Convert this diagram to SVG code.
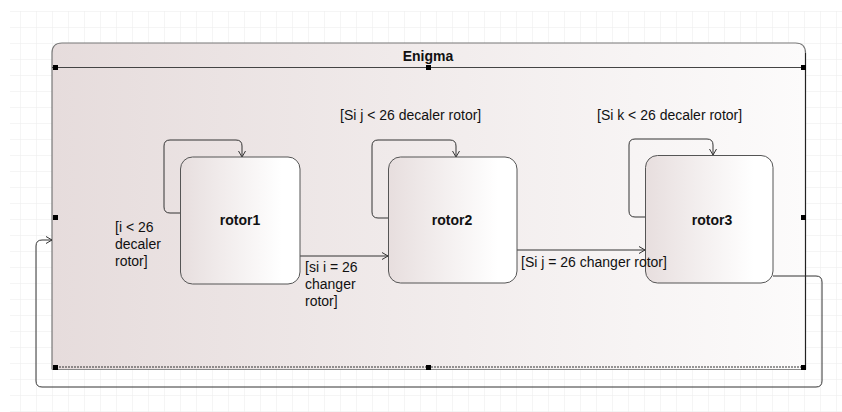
<svg xmlns="http://www.w3.org/2000/svg" width="842" height="412" viewBox="0 0 842 412">
  <defs>
    <pattern id="grid" x="4" y="11" width="16" height="16" patternUnits="userSpaceOnUse">
      <path d="M0,0 H16 M0,0 V16" fill="none" stroke="#ececec" stroke-width="1"/>
    </pattern>
    <linearGradient id="stateFill" x1="0" y1="0" x2="1" y2="0">
      <stop offset="0" stop-color="#e6dcdc"/>
      <stop offset="1" stop-color="#fcfbfb"/>
    </linearGradient>
    <linearGradient id="rotorFill" x1="0" y1="0" x2="1" y2="0">
      <stop offset="0" stop-color="#e7dede"/>
      <stop offset="0.85" stop-color="#ffffff"/>
      <stop offset="1" stop-color="#ffffff"/>
    </linearGradient>
    <marker id="arrow" markerWidth="8" markerHeight="8" refX="7" refY="4" orient="auto" markerUnits="userSpaceOnUse">
      <path d="M1,0.5 L7,4 L1,7.5" fill="none" stroke="#333" stroke-width="1"/>
    </marker>
    <style>
      .lbl { font-family: "Liberation Sans", Arial, sans-serif; font-size: 14px; fill: #111; }
      .name { font-family: "Liberation Sans", Arial, sans-serif; font-size: 14px; font-weight: bold; fill: #111; text-anchor: middle; }
      .rotor { fill: url(#rotorFill); stroke: #555; stroke-width: 1; }
      .edge { fill: none; stroke: #333; stroke-width: 1; }
      .handle { fill: #000; }
    </style>
  </defs>

  <!-- background grid -->
  <rect x="10" y="11" width="832" height="401" fill="url(#grid)"/>

  <!-- composite state Enigma -->
  <g id="enigma">
    <path d="M52,369.5 V53 Q52,43 62,43 H795.5 Q805.5,43 805.5,53 V369.5 Z" fill="url(#stateFill)" stroke="none"/>
    <path d="M52,369.5 V53 Q52,43 62,43 H795.5 Q805.5,43 805.5,53" fill="none" stroke="#777" stroke-width="1.2"/>
    <line x1="805.5" y1="53" x2="805.5" y2="369.5" stroke="#222" stroke-width="1.2"/>
    <line x1="52" y1="67.5" x2="805.5" y2="67.5" stroke="#444" stroke-width="1"/>
    <line x1="56" y1="367" x2="805" y2="367" stroke="#333" stroke-width="1" stroke-dasharray="2,1"/>
    <line x1="52" y1="369.5" x2="805.5" y2="369.5" stroke="#888" stroke-width="1"/>
    <text class="name" x="428" y="61">Enigma</text>
    <rect class="handle" x="53" y="65" width="5" height="5"/>
    <rect class="handle" x="426" y="65" width="5" height="5"/>
    <rect class="handle" x="801" y="65" width="5" height="5"/>
    <rect class="handle" x="53" y="215" width="5" height="5"/>
    <rect class="handle" x="801" y="215" width="5" height="5"/>
    <rect class="handle" x="53" y="365" width="5" height="5"/>
    <rect class="handle" x="426" y="365" width="5" height="5"/>
    <rect class="handle" x="801" y="365" width="5" height="5"/>
  </g>

  <!-- transitions -->
  <g id="connectors">
    <!-- self loops -->
    <path class="edge" d="M180,213 H170 Q164,213 164,207 V146 Q164,140 170,140 H236 Q242,140 242,146 V157" marker-end="url(#arrow)"/>
    <path class="edge" d="M388,218 H378 Q372,218 372,212 V146 Q372,140 378,140 H450 Q456,140 456,146 V157" marker-end="url(#arrow)"/>
    <path class="edge" d="M645,217 H635 Q629,217 629,211 V145 Q629,139 635,139 H707 Q713,139 713,145 V155" marker-end="url(#arrow)"/>
    <!-- rotor1 to rotor2 -->
    <path class="edge" d="M300,256 H388" marker-end="url(#arrow)"/>
    <!-- rotor2 to rotor3 -->
    <path class="edge" d="M517,250 H645" marker-end="url(#arrow)"/>
    <!-- rotor3 back to Enigma -->
    <path class="edge" d="M773,276 H816 Q822,276 822,282 V381 Q822,387 816,387 H42 Q36,387 36,381 V246 Q36,240 42,240 H52" marker-end="url(#arrow)"/>
  </g>

  <!-- states -->
  <g id="rotor1">
    <rect class="rotor" x="180.5" y="157" width="119.5" height="127" rx="12" ry="12"/>
    <text class="name" x="240" y="225">rotor1</text>
  </g>
  <g id="rotor2">
    <rect class="rotor" x="388.5" y="157" width="128.5" height="126" rx="12" ry="12"/>
    <text class="name" x="452" y="225">rotor2</text>
  </g>
  <g id="rotor3">
    <rect class="rotor" x="645.5" y="155.5" width="127.5" height="127.5" rx="12" ry="12"/>
    <text class="name" x="712" y="225">rotor3</text>
  </g>

  <!-- guard labels of the transitions -->
  <g id="guards">
    <text class="lbl" x="115" y="232">[i &lt; 26</text>
    <text class="lbl" x="115" y="249">decaler</text>
    <text class="lbl" x="115" y="266">rotor]</text>
    <text class="lbl" x="340" y="120">[Si j &lt; 26 decaler rotor]</text>
    <text class="lbl" x="597" y="120">[Si k &lt; 26 decaler rotor]</text>
    <text class="lbl" x="305" y="272">[si i = 26</text>
    <text class="lbl" x="305" y="289">changer</text>
    <text class="lbl" x="305" y="306">rotor]</text>
    <text class="lbl" x="521" y="267">[Si j = 26 changer rotor]</text>
  </g>
</svg>
